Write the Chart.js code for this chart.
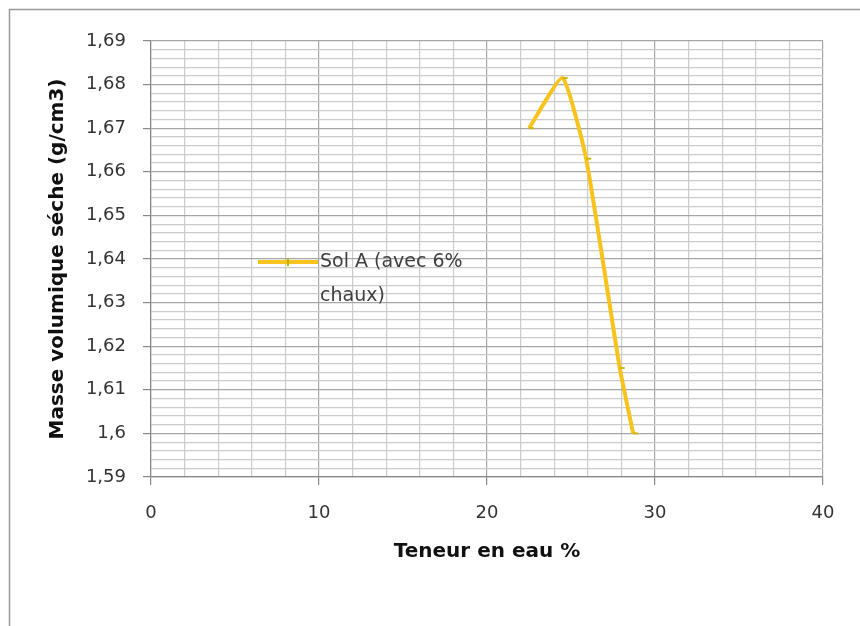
<!DOCTYPE html>
<html>
<head>
<meta charset="utf-8">
<script src="https://cdn.jsdelivr.net/npm/chart.js@4"></script>
<style>
  html, body { margin: 0; padding: 0; background: #fff; overflow: hidden; }
  #wrap { width: 860px; height: 626px; position: relative; }
</style>
</head>
<body>
<div id="wrap"><canvas id="chart"></canvas></div>
<script>
const seriesName = ["Sol A (avec 6%", "chaux)"];
const waterContent = [22.5, 24.5, 25.9, 27.9, 28.7];
const dryDensity = [1.670, 1.6815, 1.663, 1.615, 1.600];
const xTicks = [0, 10, 20, 30, 40];
const xTickLabels = ["0", "10", "20", "30", "40"];
const yTicks = [1.59, 1.60, 1.61, 1.62, 1.63, 1.64, 1.65, 1.66, 1.67, 1.68, 1.69];
const yTickLabels = ["1,59", "1,6", "1,61", "1,62", "1,63", "1,64", "1,65", "1,66", "1,67", "1,68", "1,69"];

const lineColor = "#F7C31C";
const majorGrid = "#a6a6a6";
const minorGrid = "#cbcbcb";

// majors from the arrays, 4 minor lines between each pair
function withMinors(majors) {
  const out = [];
  for (let i = 0; i < majors.length; i++) {
    out.push({ value: majors[i], major: true });
    if (i < majors.length - 1) {
      for (let k = 1; k < 5; k++) {
        out.push({ value: majors[i] + (majors[i + 1] - majors[i]) * k / 5 });
      }
    }
  }
  return out;
}

function isMajor(list, v) {
  return list.findIndex(t => Math.abs(t - v) < 1e-7);
}

const frame = {
  id: "frame",
  beforeDraw(chart) {
    const c = chart.ctx;
    c.save();
    c.strokeStyle = "#9a9a9a";
    c.lineWidth = 1.5;
    c.strokeRect(9.5, 9.5, 900, 700);
    c.restore();
  }
};

const legendBox = {
  id: "legendBox",
  afterDraw(chart) {
    const c = chart.ctx;
    c.save();
    c.strokeStyle = lineColor;
    c.lineWidth = 4;
    c.beginPath();
    c.moveTo(258, 262);
    c.lineTo(318, 262);
    c.stroke();
    c.strokeStyle = "#b8b400";
    c.lineWidth = 2;
    c.beginPath();
    c.moveTo(288, 258);
    c.lineTo(288, 266);
    c.stroke();
    c.fillStyle = "#404040";
    c.font = "19px 'DejaVu Sans'";
    c.textBaseline = "middle";
    c.fillText(seriesName[0], 320, 262);
    c.fillText(seriesName[1], 320, 296);
    c.restore();
  }
};

new Chart(document.getElementById("chart"), {
  type: "scatter",
  data: {
    datasets: [{
      label: seriesName.join(" "),
      data: waterContent.map((x, i) => ({ x: x, y: dryDensity[i] })),
      showLine: true,
      tension: 0.15,
      borderColor: lineColor,
      borderWidth: 4,
      borderJoinStyle: "round",
      pointStyle: "dash",
      pointRadius: 5,
      pointBorderWidth: 2,
      pointBorderColor: "#c9b800",
      pointBackgroundColor: "#c9b800"
    }]
  },
  options: {
    responsive: true,
    maintainAspectRatio: false,
    animation: false,
    layout: { padding: { left: 0, top: 41, right: 37, bottom: 0 } },
    plugins: {
      legend: { display: false },
      tooltip: { enabled: false }
    },
    scales: {
      x: {
        type: "linear",
        min: 0,
        max: 40,
        afterBuildTicks: s => { s.ticks = withMinors(xTicks); },
        afterFit: s => { s.height = 149; },
        ticks: {
          autoSkip: false,
          maxRotation: 0,
          padding: 18,
          color: "#333",
          font: { family: "DejaVu Sans", size: 18 },
          callback: v => { const i = isMajor(xTicks, v); return i >= 0 ? xTickLabels[i] : ""; }
        },
        grid: {
          color: c => isMajor(xTicks, c.tick.value) >= 0 ? majorGrid : minorGrid,
          tickColor: c => isMajor(xTicks, c.tick.value) >= 0 ? "#888" : "rgba(0,0,0,0)",
          tickLength: 8,
          lineWidth: 1.2
        },
        border: { color: "#888", width: 1.2 },
        title: {
          display: true,
          text: "Teneur en eau %",
          color: "#111",
          font: { family: "DejaVu Sans", size: 20, weight: "bold" },
          padding: { top: 0, bottom: 62 }
        }
      },
      y: {
        type: "linear",
        min: 1.59,
        max: 1.69,
        afterBuildTicks: s => { s.ticks = withMinors(yTicks); },
        afterFit: s => { s.width = 151; },
        ticks: {
          autoSkip: false,
          padding: 17,
          color: "#333",
          font: { family: "DejaVu Sans", size: 18 },
          callback: v => { const i = isMajor(yTicks, v); return i >= 0 ? yTickLabels[i] : ""; }
        },
        grid: {
          color: c => isMajor(yTicks, c.tick.value) >= 0 ? majorGrid : minorGrid,
          tickColor: c => isMajor(yTicks, c.tick.value) >= 0 ? "#888" : "rgba(0,0,0,0)",
          tickLength: 8,
          lineWidth: 1.2
        },
        border: { color: "#888", width: 1.2 },
        title: {
          display: true,
          text: "Masse volumique séche (g/cm3)",
          color: "#111",
          font: { family: "DejaVu Sans", size: 20, weight: "bold" },
          padding: { top: 46, bottom: 0 }
        }
      }
    }
  },
  plugins: [frame, legendBox]
});
</script>
</body>
</html>
